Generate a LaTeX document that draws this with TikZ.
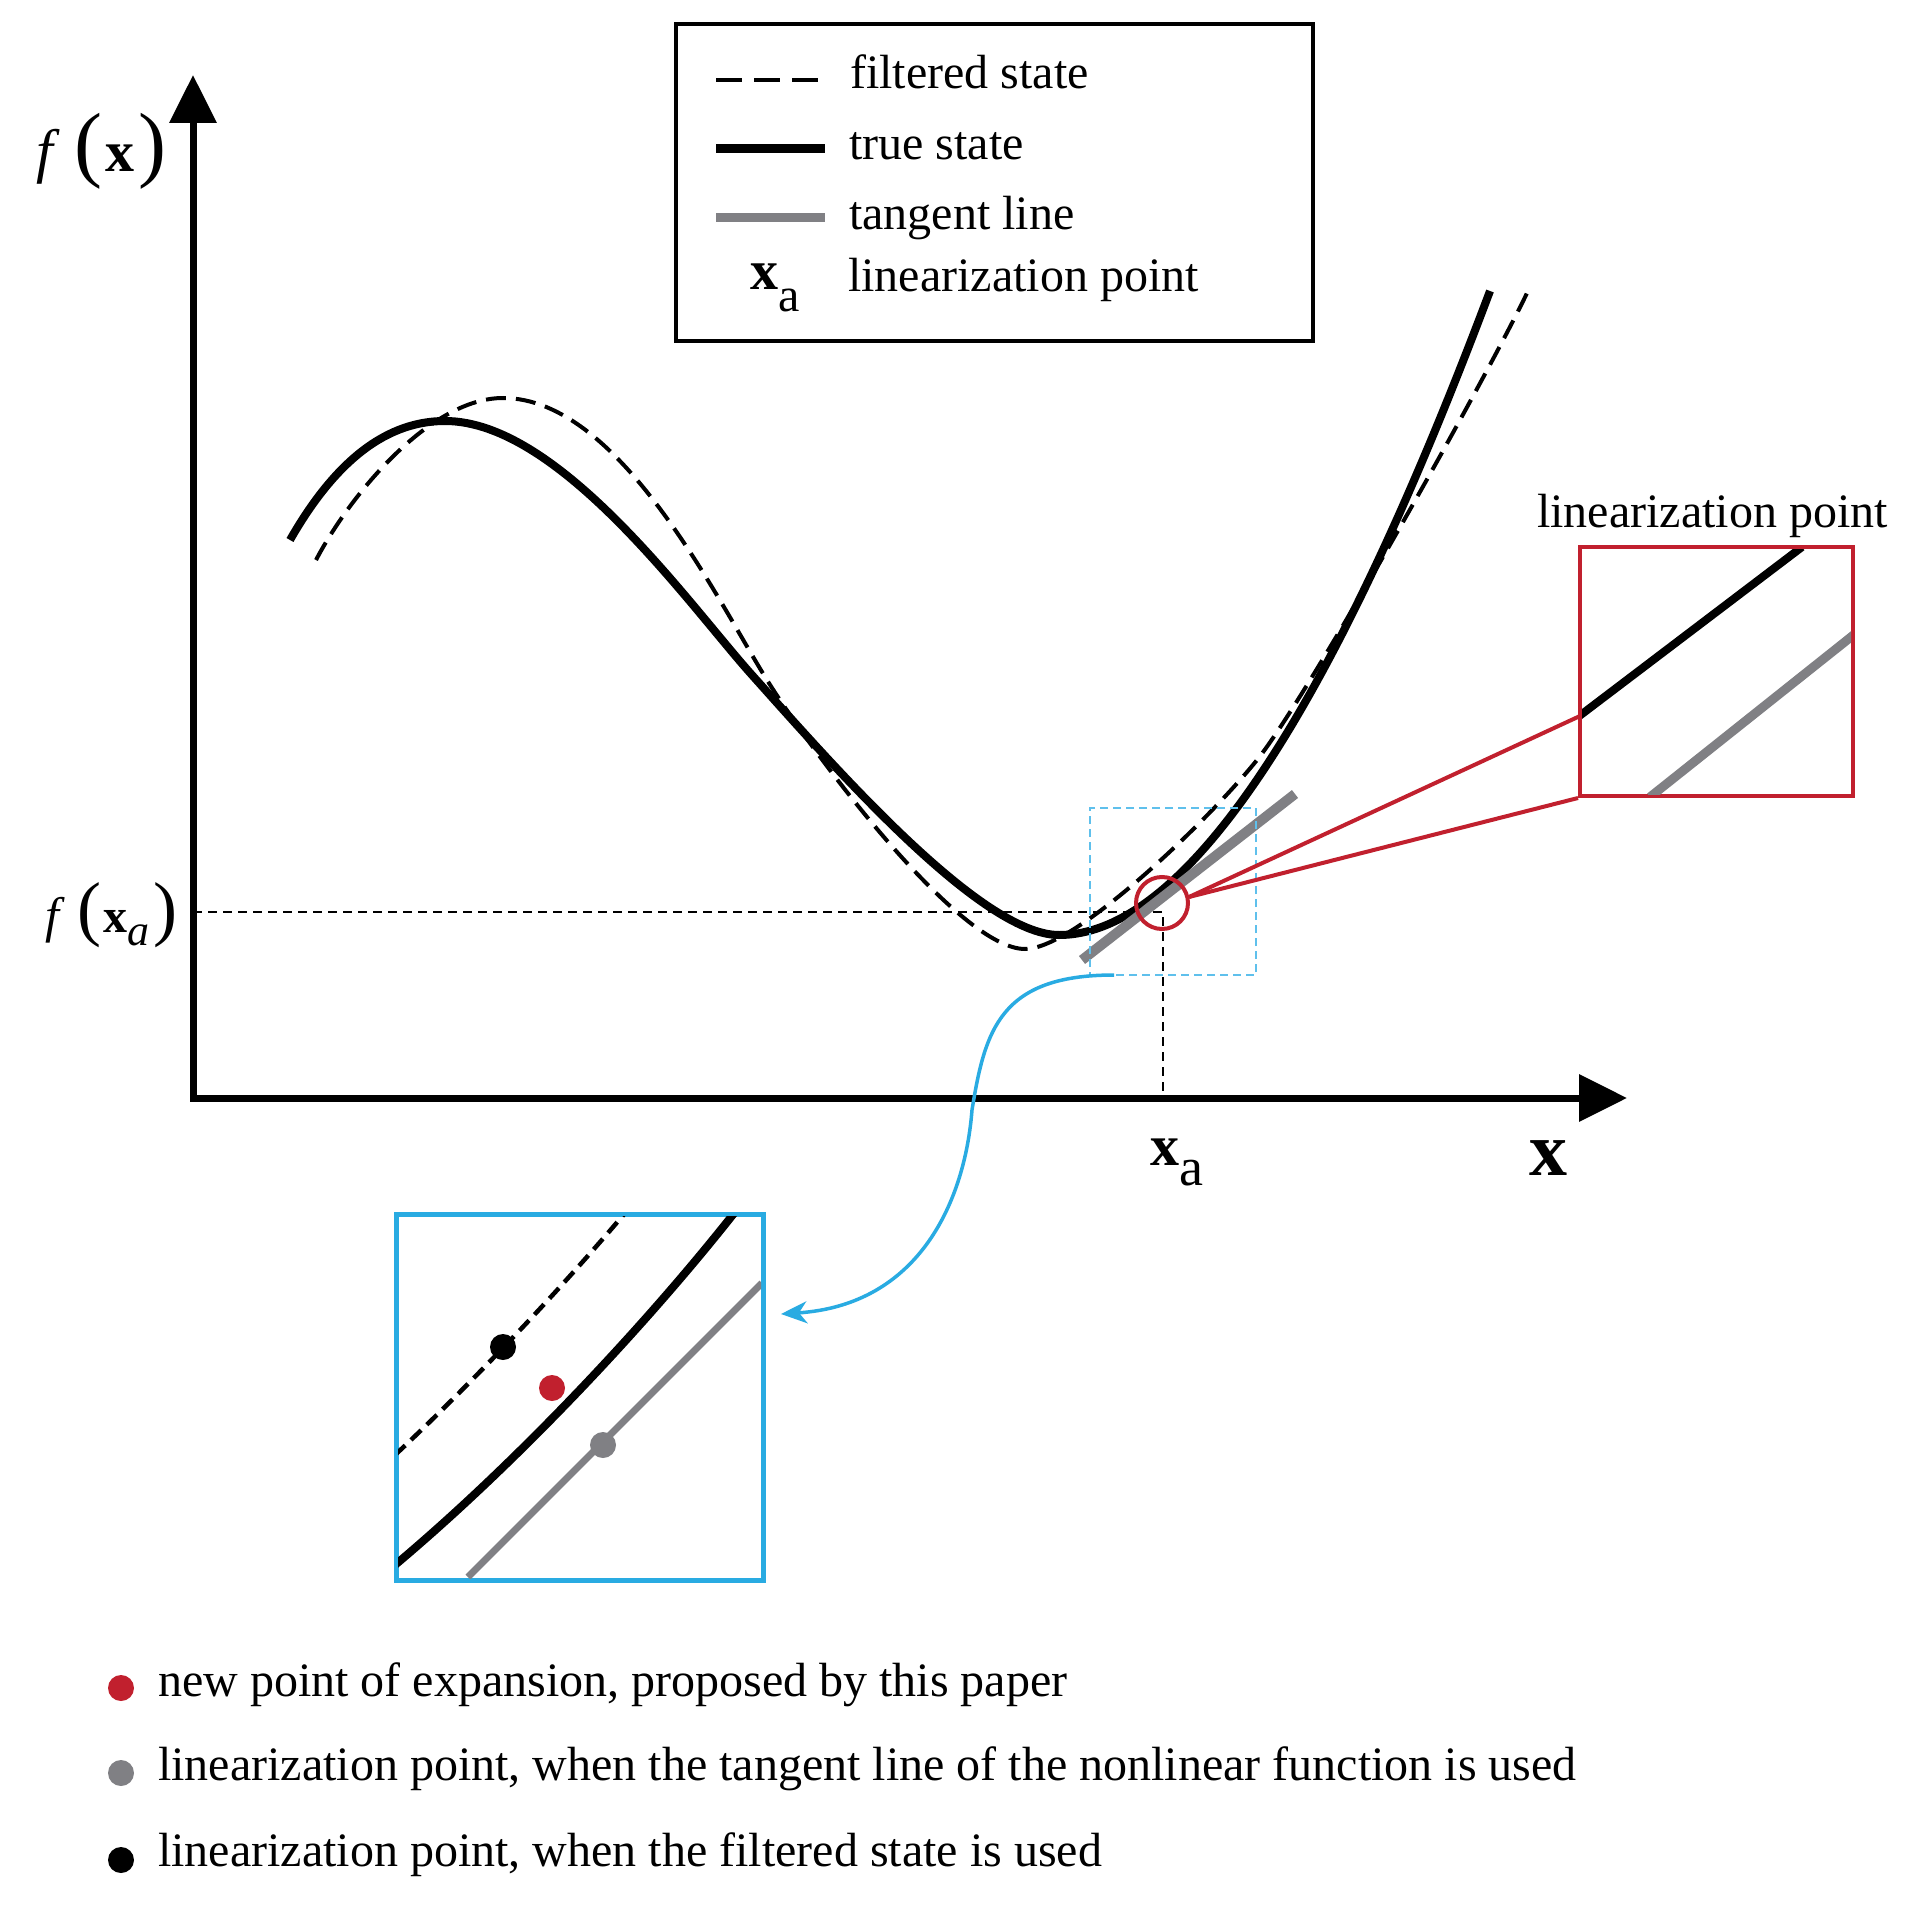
\documentclass[tikz,border=0pt]{standalone}
\usepackage{fontspec}
\setmainfont{Liberation Serif}
\usetikzlibrary{arrows.meta,calc}
\definecolor{redc}{RGB}{193,32,46}
\definecolor{grayc}{RGB}{128,128,132}
\definecolor{bluec}{RGB}{41,171,226}
\definecolor{lbluec}{RGB}{95,192,236}
\begin{document}
\begin{tikzpicture}[x=1pt,y=-1pt,
  lbl/.style={inner sep=0pt, anchor=base west, font=\fontsize{48}{58}\selectfont},
  truec/.style={line width=8pt, black},
  filt/.style={line width=4pt, black, dash pattern=on 20pt off 10pt},
  tang/.style={line width=10pt, grayc},
  axisline/.style={line width=7pt, line join=miter, {Triangle[length=48pt,width=46pt]}-{Triangle[length=48pt,width=46pt]}},
  guide/.style={line width=2.5pt, dash pattern=on 9pt off 6pt},
  redl/.style={line width=4pt, redc},
  dotmark/.style={circle, inner sep=0pt, minimum size=26pt},
]
\useasboundingbox (0,0) rectangle (1920,1910);
\fill[white] (0,0) rectangle (1920,1910);

% axes
\coordinate (O) at (193,1098);
\coordinate (Ytip) at (193,75);
\coordinate (Xtip) at (1627,1098);
\draw[axisline] (Ytip) -- (O) -- (Xtip);

% guide lines
\coordinate (fa) at (193,912);
\coordinate (P) at (1163,912);
\coordinate (xa) at (1163,1098);
\draw[guide] (fa) -- (P) -- (xa);

% filtered state
\draw[filt] (316,560) .. controls (350,495) and (430,398) .. (503,398)
  .. controls (620,398) and (717,600) .. (767,680)
  .. controls (817,760) and (960,949) .. (1025,949)
  .. controls (1075,949) and (1207,822) .. (1257,760)
  .. controls (1307,698) and (1488,375) .. (1528,291);

% true state
\draw[truec] (290,540) .. controls (330,470) and (380,421) .. (445,421)
  .. controls (560,421) and (690,606) .. (752,675)
  .. controls (830,762) and (980,935) .. (1059,935)
  .. controls (1230,935) and (1400,530) .. (1490,291);

% tangent line
\coordinate (t1) at (1082,960);
\coordinate (t2) at (1295,794);
\draw[tang] (t1) -- (t2);

% blue dashed zoom rectangle
\node[draw=lbluec, line width=2pt, dash pattern=on 8pt off 5pt, minimum width=166pt, minimum height=167pt, inner sep=0pt] (zr) at (1173,891.5) {};

% red circle and lines
\node[circle, draw=redc, line width=4pt, minimum size=52pt, inner sep=0pt] (rc) at (1162,903) {};
\coordinate (conv) at (1189,897);
\node[draw=redc, line width=4pt, minimum width=273pt, minimum height=249pt, inner sep=0pt] (rbox) at (1716.5,671.5) {};
\coordinate (rup) at (1580,716);
\draw[redl] (conv) -- (rup);
\draw[redl] (conv) -- (rbox.south west);
\begin{scope}
  \clip (1582,549) rectangle (1851,794);
  \draw[line width=8pt] (1578,717) -- (1802,547);
  \draw[line width=9pt, grayc] (1650,797) -- (1856,633);
\end{scope}
\node[lbl] (rtxt) at (1537,527) {linearization point};

% blue inset
\node[draw=bluec, line width=5pt, minimum width=367pt, minimum height=366pt, inner sep=0pt] (bbox) at (579.5,1397) {};
\begin{scope}
  \clip (398,1216) rectangle (761,1578);
  \draw[line width=4.5pt, dash pattern=on 14pt off 8pt] (395,1455) .. controls (470,1385) and (560,1290) .. (625,1213);
  \draw[line width=8pt] (395,1565) .. controls (520,1460) and (650,1320) .. (735,1212);
  \draw[line width=7pt, grayc] (468,1577) -- (762,1283);
\end{scope}
\node[dotmark, fill=black] (bd) at (503,1347) {};
\node[dotmark, fill=redc] (rd) at (552,1388) {};
\node[dotmark, fill=grayc] (gd) at (603,1445) {};

% blue connector
\coordinate (bstart) at (1114,975);
\coordinate (bend) at (781,1314);
\draw[bluec, line width=3.5pt, -{Stealth[length=26pt,width=22pt,inset=8pt]}]
  (bstart) .. controls (1000,975) and (985,1030) .. (972,1110)
  .. controls (965,1200) and (920,1305) .. (bend);

% axis labels
\node[lbl] (fx) at (36,172) {{\fontsize{60}{60}\selectfont\itshape f}\hspace{22pt}{\fontsize{84}{84}\selectfont(}\hspace{3pt}{\fontsize{58}{60}\selectfont\bfseries x}\hspace{4pt}{\fontsize{84}{84}\selectfont)}};
\node[lbl] (fxa) at (45,932) {{\fontsize{50}{50}\selectfont\itshape f}\hspace{18pt}{\fontsize{72}{72}\selectfont(}\hspace{2pt}{\fontsize{48}{50}\selectfont\bfseries x}\raisebox{-13pt}{\fontsize{44}{44}\selectfont\itshape a}\hspace{4pt}{\fontsize{72}{72}\selectfont)}};
\node[lbl] (xalab) at (1150,1165) {{\fontsize{58}{60}\selectfont\bfseries x}\raisebox{-20pt}{\fontsize{54}{54}\selectfont a}};
\node[lbl] (xlab) at (1529,1175) {{\fontsize{76}{76}\selectfont\bfseries x}};

% legend
\node[draw, line width=4pt, minimum width=637pt, minimum height=317pt, inner sep=0pt] (legend) at (994.5,182.5) {};
\coordinate (l1a) at (716,80);  \coordinate (l1b) at (818,80);
\coordinate (l2a) at (716,149); \coordinate (l2b) at (825,149);
\coordinate (l3a) at (716,218); \coordinate (l3b) at (825,218);
\draw[line width=4pt, dash pattern=on 26pt off 12pt] (l1a) -- (l1b);
\draw[line width=9pt] (l2a) -- (l2b);
\draw[line width=9pt, grayc] (l3a) -- (l3b);
\node[lbl] (lt1) at (850,89) {filtered state};
\node[lbl] (lt2) at (849,160) {true state};
\node[lbl] (lt3) at (849,230) {tangent line};
\node[lbl] (lt4) at (848,292) {linearization point};
\node[lbl] (lxa) at (750,290) {{\fontsize{56}{56}\selectfont\bfseries x}\raisebox{-22pt}{a}};

% bottom legend
\node[dotmark, fill=redc] (k1) at (121,1688) {};
\node[dotmark, fill=grayc] (k2) at (121,1773) {};
\node[dotmark, fill=black] (k3) at (121,1860) {};
\node[lbl] (kt1) at (158,1696) {new point of expansion, proposed by this paper};
\node[lbl] (kt2) at (158,1780) {linearization point, when the tangent line of the nonlinear function is used};
\node[lbl] (kt3) at (158,1866) {linearization point, when the filtered state is used};
\end{tikzpicture}
\end{document}
